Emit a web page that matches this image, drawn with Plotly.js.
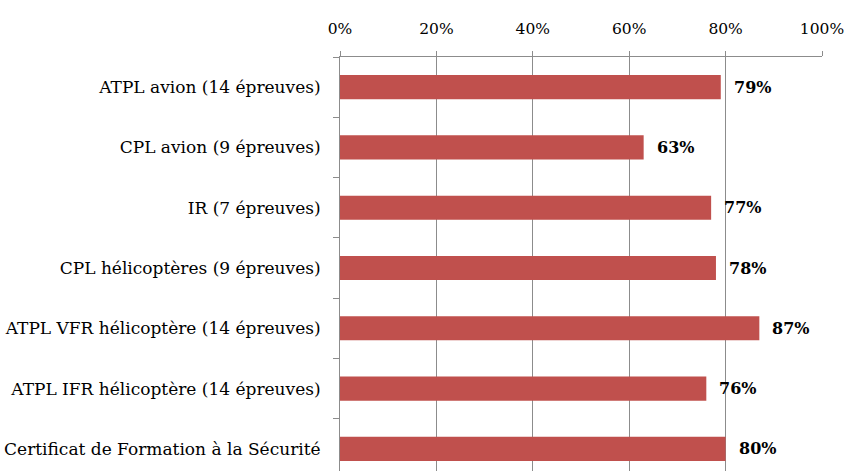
<!DOCTYPE html>
<html><head><meta charset="utf-8">
<script src="https://cdn.plot.ly/plotly-3.0.1.min.js"></script>
<style>html,body{margin:0;padding:0;overflow:hidden;background:#fff}</style>
</head><body>
<div id="chart" style="width:846px;height:500px"></div>
<script>
const categories = [
  "ATPL avion (14 épreuves)",
  "CPL avion (9 épreuves)",
  "IR (7 épreuves)",
  "CPL hélicoptères (9 épreuves)",
  "ATPL VFR hélicoptère (14 épreuves)",
  "ATPL IFR hélicoptère (14 épreuves)",
  "Certificat de Formation à la Sécurité"
];
const values = [0.79, 0.63, 0.77, 0.78, 0.87, 0.76, 0.80];
const xTickVals = [0, 0.2, 0.4, 0.6, 0.8, 1.0];
const xTickText = ["0%", "20%", "40%", "60%", "80%", "100%"];

const font = "DejaVu Serif, serif";
const trace = {
  type: "bar", orientation: "h",
  x: values, y: categories,
  marker: {color: "#C0504D"},
  width: 0.4,
  hoverinfo: "none"
};
const annotations = values.map((v, i) => ({
  x: v, y: categories[i], xref: "x", yref: "y",
  text: "<b>" + Math.round(v * 100) + "%</b>",
  showarrow: false, xanchor: "left", xshift: 11,
  font: {family: font, size: 16, color: "#000"}
}));
Plotly.newPlot("chart", [trace], {
  width: 846, height: 500,
  margin: {l: 340, r: 24, t: 57, b: 21},
  paper_bgcolor: "#fff", plot_bgcolor: "#fff",
  font: {family: font, size: 16, color: "#000"},
  showlegend: false,
  bargap: 0.6,
  xaxis: {
    side: "top", range: [0, 1], tickvals: xTickVals, ticktext: xTickText,
    showgrid: true, gridcolor: "#8c8c8c", gridwidth: 1,
    showline: true, linecolor: "#8c8c8c", linewidth: 1,
    ticks: "outside", ticklen: 5, tickcolor: "#8c8c8c",
    ticklabelstandoff: 11,
    zeroline: false, fixedrange: true,
    tickfont: {family: font, size: 15.5, color: "#000"}
  },
  yaxis: {
    type: "category", autorange: "reversed",
    showgrid: false, showline: true, linecolor: "#8c8c8c", linewidth: 1,
    ticks: "outside", ticklen: 6, tickcolor: "#8c8c8c", tickson: "boundaries",
    ticklabelstandoff: 15,
    fixedrange: true,
    tickfont: {family: font, size: 17, color: "#000"}
  },
  annotations: annotations
}, {displayModeBar: false, staticPlot: true});
</script>
</body></html>
